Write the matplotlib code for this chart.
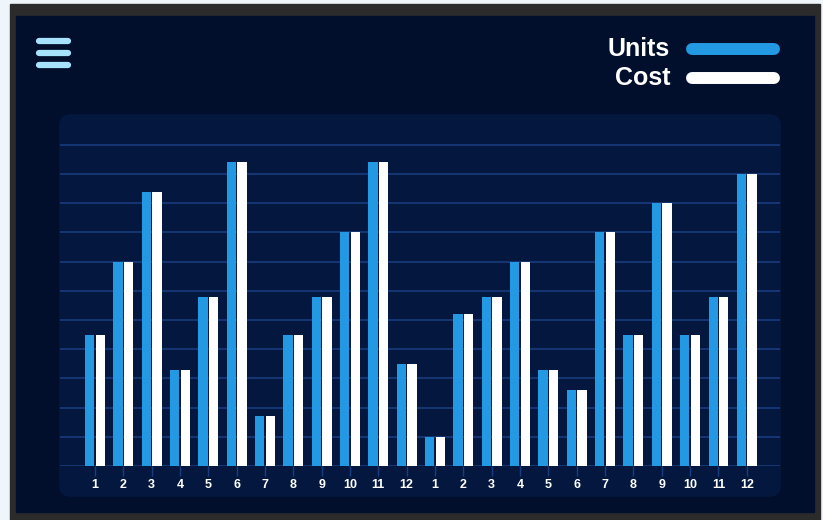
import numpy as np
import matplotlib
matplotlib.use('Agg')
import matplotlib.pyplot as plt
from matplotlib.patches import Rectangle, FancyBboxPatch
from matplotlib.lines import Line2D

# data (two years of months)
months = ['1', '2', '3', '4', '5', '6', '7', '8', '9', '10', '11', '12'] * 2
units = [45, 70, 94, 33, 58, 104, 17, 45, 58, 80, 104, 35,
         10, 52, 58, 70, 33, 26, 80, 45, 90, 45, 58, 100]
cost = [45, 70, 94, 33, 58, 104, 17, 45, 58, 80, 104, 35,
        10, 52, 58, 70, 33, 26, 80, 45, 90, 45, 58, 100]
grid_values = list(range(0, 120, 10))

blue = '#2299e2'
navy = '#010f2c'
panel = '#04183f'
grid_col = '#1a3d82'
font = ['Liberation Sans', 'DejaVu Sans']

W, H = 823, 520
fig = plt.figure(figsize=(W / 100, H / 100), dpi=100, facecolor='#eef6fb')
tr = fig.dpi_scale_trans


def box(x0, y0, x1, y1):
    # pixel box (top-left origin) -> inches (bottom-left origin)
    return x0 / 100, (H - y1) / 100, (x1 - x0) / 100, (y1 - y0) / 100


# frame and background
x, y, w, h = box(10, 4, 820, 520)
fig.patches.append(Rectangle((x, y), w, h, transform=tr, color='#2b2b2b', zorder=0))
x, y, w, h = box(16, 16, 814, 512)
fig.patches.append(Rectangle((x, y), w, h, transform=tr, color=navy, zorder=0))
x, y, w, h = box(60, 115, 780, 496)
fig.patches.append(FancyBboxPatch((x, y), w, h, transform=tr, color=panel, zorder=0,
                                  boxstyle='round,pad=0,rounding_size=0.1'))

# hamburger icon
for yy in [40.5, 52.5, 64.5]:
    fig.lines.append(Line2D([39 / 100, 68 / 100], [(H - yy) / 100] * 2, transform=tr,
                            color='#a6e3fa', lw=4.5, solid_capstyle='round'))

# legend
for label, col, yy in [('Units', blue, 49), ('Cost', 'white', 78)]:
    fig.lines.append(Line2D([692 / 100, 774 / 100], [(H - yy) / 100] * 2, transform=tr,
                            color=col, lw=8.6, solid_capstyle='round'))
    fig.text(670 / 100, (H - yy) / 100, label, transform=tr, ha='right', va='center',
             color='white', fontsize=18, fontweight='bold', family=font)

# bars
ax = fig.add_axes([60 / W, (H - 466) / H, 720 / W, 351 / H])
ax.set_zorder(2)
ax.set_facecolor('none')
xs = np.arange(len(months))
for g in grid_values:
    ax.axhline(g, color=grid_col, lw=1.1, zorder=1)
ax.bar(xs - 0.187, units, 0.328, color=blue, zorder=2)
ax.bar(xs + 0.187, cost, 0.328, color='white', zorder=2)

ax.set_xlim(-1.23, 24.17)
ax.set_ylim(0, 120.2)
ax.set_yticks([])
ax.set_xticks(xs)
ax.set_xticklabels(months, family=font, fontweight='bold', fontsize=9, color='white')
ax.tick_params(axis='x', length=7, width=1, color=grid_col, pad=2.5)
for s in ax.spines.values():
    s.set_visible(False)

fig.savefig('out.png', dpi=100, facecolor=fig.get_facecolor())
